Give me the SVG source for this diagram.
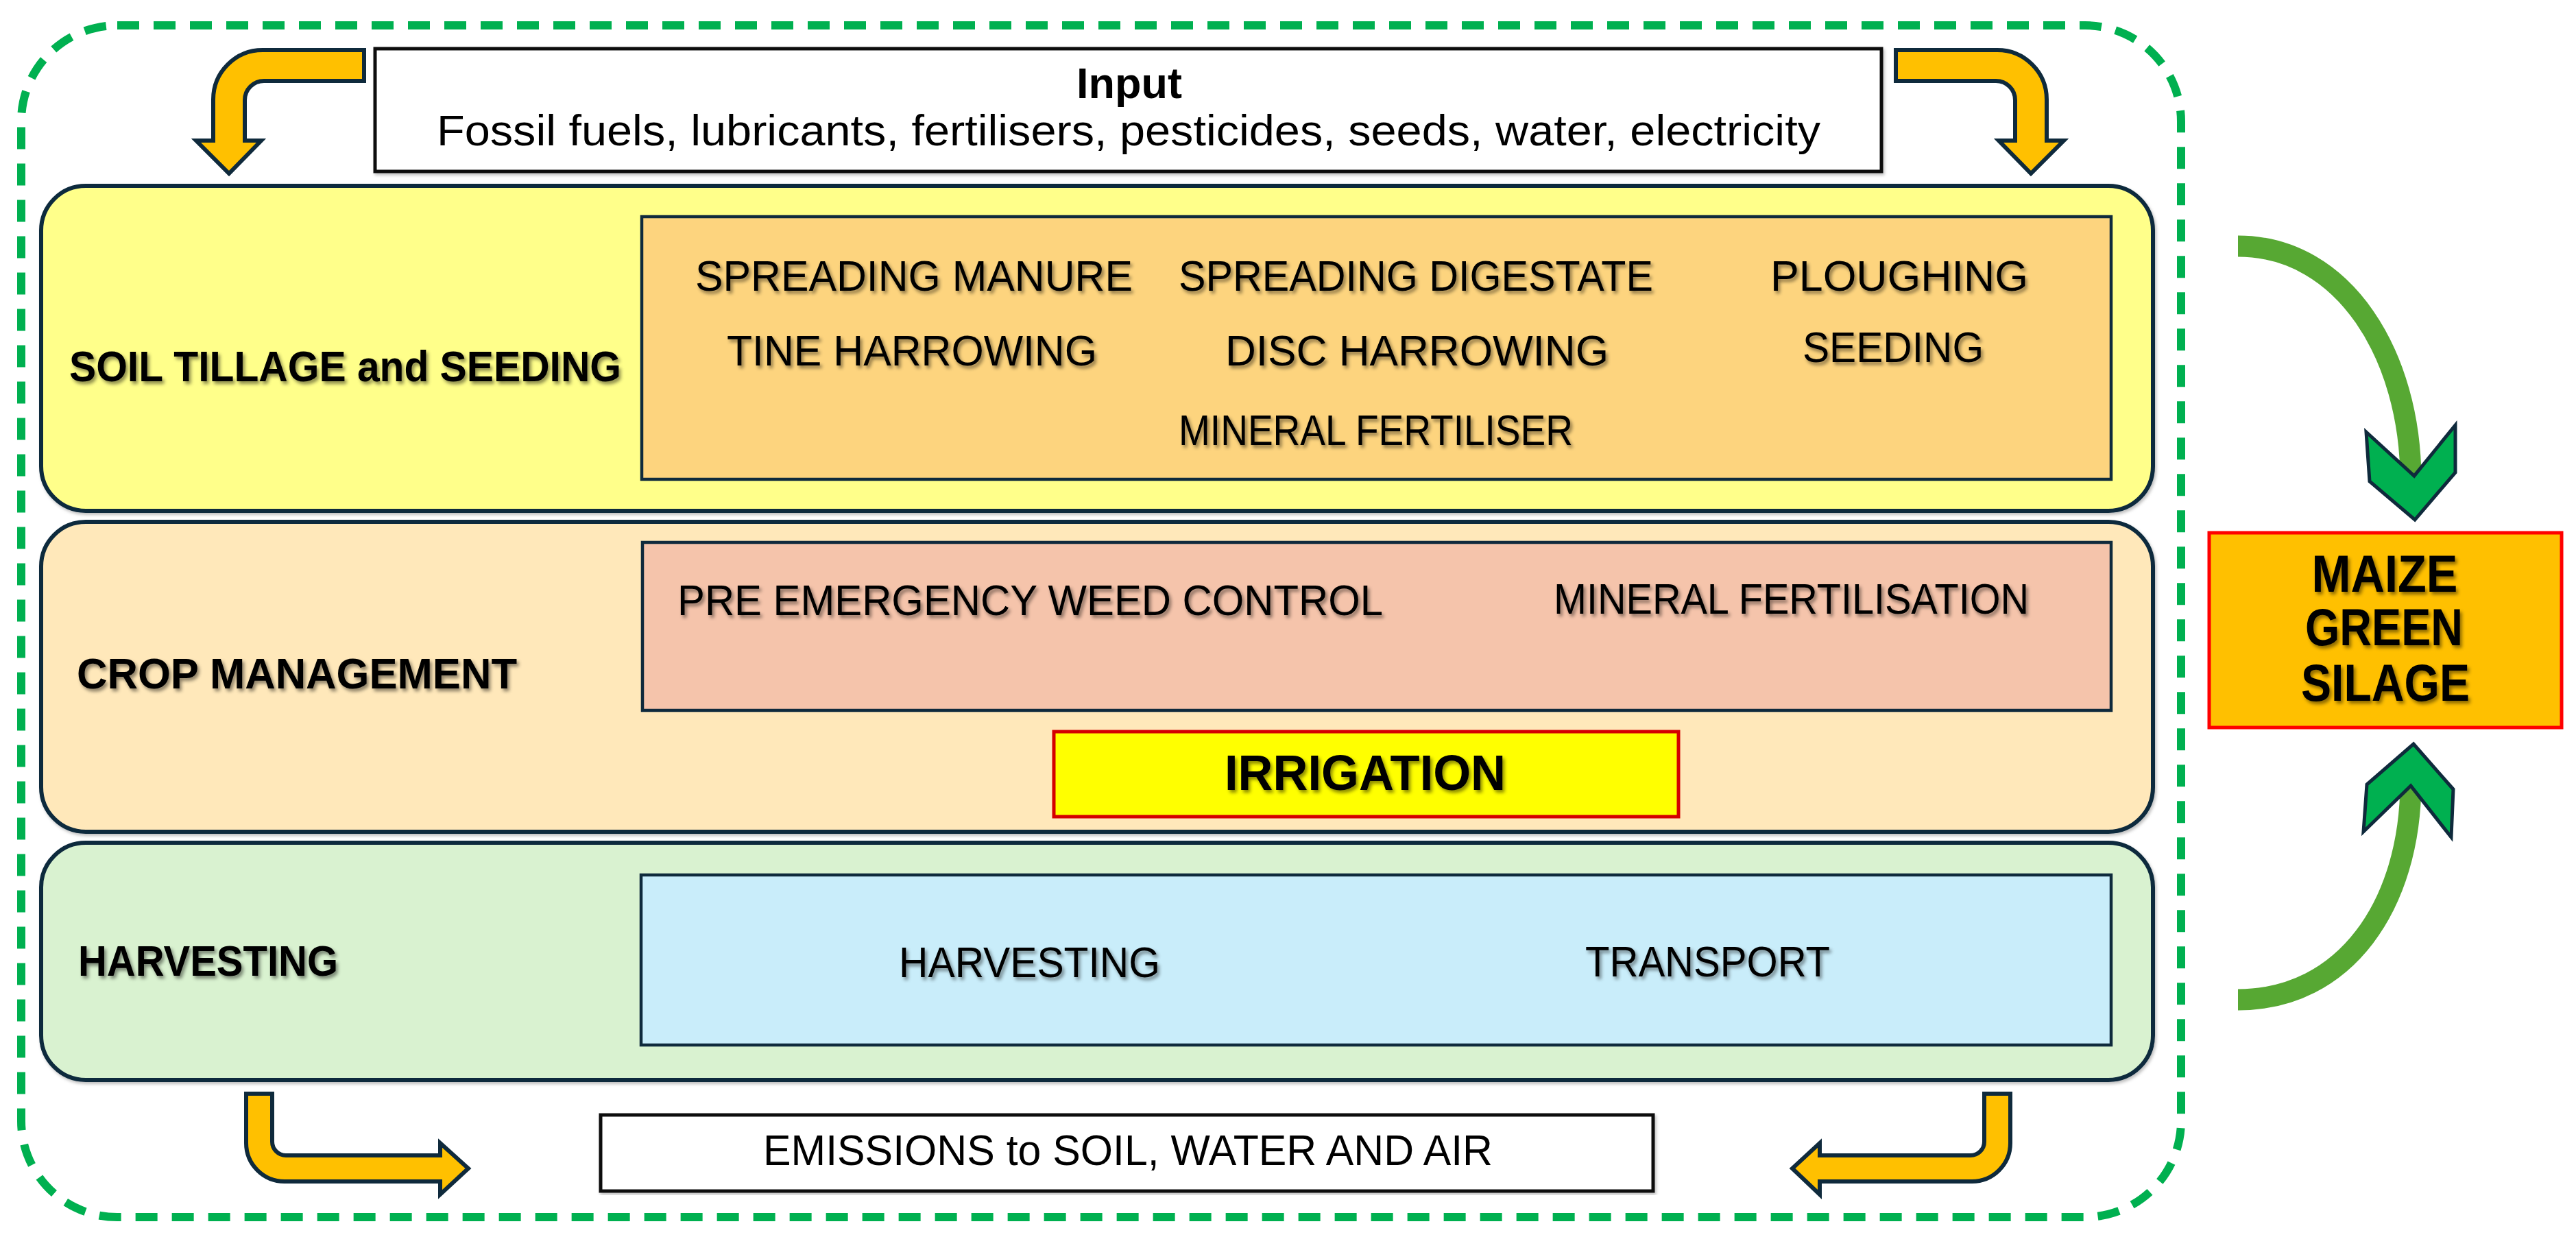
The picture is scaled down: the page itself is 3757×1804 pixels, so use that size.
<svg xmlns="http://www.w3.org/2000/svg" width="3757" height="1804" viewBox="0 0 3757 1804">
<defs>
<filter id="tsh" x="-5%" y="-30%" width="110%" height="160%">
<feDropShadow dx="3" dy="4" stdDeviation="2.5" flood-color="#000" flood-opacity="0.45"/>
</filter>
<filter id="bsh" x="-2%" y="-5%" width="104%" height="110%">
<feDropShadow dx="2" dy="3" stdDeviation="2" flood-color="#000" flood-opacity="0.25"/>
</filter>
</defs>
<style>
text{font-family:"Liberation Sans",Arial,sans-serif;fill:#000;}
.t{font-size:63px;}
.tb{font-size:63px;font-weight:bold;}
.sh{filter:url(#tsh);}
.stage{stroke:#0F2A3C;stroke-width:6;filter:url(#bsh);}
.inner{stroke:#0F2A3C;stroke-width:4.5;}
.plain{fill:#fff;stroke:#111;stroke-width:5;filter:url(#bsh);}
.yarrow{fill:#FFC000;stroke:#0F2A3C;stroke-width:6;stroke-linejoin:miter;}
.gshaft{fill:none;stroke:#57A833;stroke-width:31;}
.ghead{fill:#00B050;stroke:#0F2A3C;stroke-width:5;stroke-linejoin:miter;}
</style>
<rect width="3757" height="1804" fill="#fff"/>

<g id="boundary">
<rect x="31" y="37" width="3150" height="1738" rx="140" ry="140" fill="none" stroke="#00B050" stroke-width="12" stroke-dasharray="32 21"/>
</g>

<g id="input">
<rect class="plain" x="547" y="71" width="2197" height="179"/>
<text class="tb" x="1647" y="143" text-anchor="middle">Input</text>
<text class="t" x="1646" y="212" text-anchor="middle" textLength="2018" lengthAdjust="spacingAndGlyphs">Fossil fuels, lubricants, fertilisers, pesticides, seeds, water, electricity</text>
</g>

<g id="soil-tillage">
<rect class="stage" x="60" y="271" width="3080" height="474" rx="65" ry="65" fill="#FFFF8A"/>
<text class="tb sh" x="101" y="556" textLength="805" lengthAdjust="spacingAndGlyphs">SOIL TILLAGE and SEEDING</text>
<rect class="inner" x="936" y="316" width="2143" height="383" fill="#FDD47E"/>
<text class="t sh" x="1014" y="424" textLength="638" lengthAdjust="spacingAndGlyphs">SPREADING MANURE</text>
<text class="t sh" x="1719" y="424" textLength="692" lengthAdjust="spacingAndGlyphs">SPREADING DIGESTATE</text>
<text class="t sh" x="2582" y="424" textLength="376" lengthAdjust="spacingAndGlyphs">PLOUGHING</text>
<text class="t sh" x="1060" y="533" textLength="540" lengthAdjust="spacingAndGlyphs">TINE HARROWING</text>
<text class="t sh" x="1787" y="533" textLength="559" lengthAdjust="spacingAndGlyphs">DISC HARROWING</text>
<text class="t sh" x="2629" y="528" textLength="264" lengthAdjust="spacingAndGlyphs">SEEDING</text>
<text class="t sh" x="1719" y="649" textLength="575" lengthAdjust="spacingAndGlyphs">MINERAL FERTILISER</text>
</g>

<g id="crop-management">
<rect class="stage" x="60" y="761" width="3080" height="452" rx="65" ry="65" fill="#FFE8BA"/>
<text class="tb sh" x="112" y="1004" textLength="642" lengthAdjust="spacingAndGlyphs">CROP MANAGEMENT</text>
<rect class="inner" x="937" y="791" width="2142" height="245" fill="#F5C4AB"/>
<text class="t sh" x="988" y="897" textLength="1029" lengthAdjust="spacingAndGlyphs">PRE EMERGENCY WEED CONTROL</text>
<text class="t sh" x="2266" y="895" textLength="693" lengthAdjust="spacingAndGlyphs">MINERAL FERTILISATION</text>
</g>

<g id="irrigation">
<rect x="1537" y="1067" width="911" height="124" fill="#FFFF00" stroke="#D40000" stroke-width="5"/>
<text class="tb sh" x="1991" y="1152" text-anchor="middle" style="font-size:72px" textLength="410" lengthAdjust="spacingAndGlyphs">IRRIGATION</text>
</g>

<g id="harvesting">
<rect class="stage" x="60" y="1229" width="3080" height="346" rx="65" ry="65" fill="#D9F2D0"/>
<text class="tb sh" x="114" y="1423" textLength="379" lengthAdjust="spacingAndGlyphs">HARVESTING</text>
<rect class="inner" x="935" y="1276" width="2144" height="248" fill="#C9EDFA"/>
<text class="t sh" x="1311" y="1425" textLength="381" lengthAdjust="spacingAndGlyphs">HARVESTING</text>
<text class="t sh" x="2312" y="1424" textLength="357" lengthAdjust="spacingAndGlyphs">TRANSPORT</text>
</g>

<g id="emissions">
<rect class="plain" x="876" y="1626" width="1535" height="111"/>
<text class="t" x="1645" y="1699" text-anchor="middle" textLength="1064" lengthAdjust="spacingAndGlyphs">EMISSIONS to SOIL, WATER AND AIR</text>
</g>

<g id="maize-green-silage">
<rect x="3222" y="777" width="514" height="284" fill="#FFC000" stroke="#FF0000" stroke-width="5"/>
<text class="tb sh" x="3478" y="863" text-anchor="middle" style="font-size:76px" textLength="213" lengthAdjust="spacingAndGlyphs">MAIZE</text>
<text class="tb sh" x="3477" y="941" text-anchor="middle" style="font-size:76px" textLength="230" lengthAdjust="spacingAndGlyphs">GREEN</text>
<text class="tb sh" x="3479" y="1022" text-anchor="middle" style="font-size:76px" textLength="246" lengthAdjust="spacingAndGlyphs">SILAGE</text>
</g>

<g id="connectors">
<path class="yarrow" d="M531,73 L383,73 A72,72 0 0 0 311,145 L311,205 L286,205 L334,253 L381,205 L357,205 L357,146 A28,28 0 0 1 385,118 L531,118 Z"/>
<path class="yarrow" d="M2765,73 L2913,73 A72,72 0 0 1 2985,145 L2985,205 L3010,205 L2962,253 L2915,205 L2939,205 L2939,146 A28,28 0 0 0 2911,118 L2765,118 Z"/>
<path class="yarrow" d="M359,1595 L397,1595 L397,1665 A20,20 0 0 0 417,1685 L642,1685 L642,1667 L683,1704 L642,1742 L642,1723 L415,1723 A56,56 0 0 1 359,1667 Z"/>
<path class="yarrow" d="M2932,1595 L2894,1595 L2894,1665 A20,20 0 0 1 2874,1685 L2654,1685 L2654,1667 L2614,1704 L2654,1742 L2654,1723 L2876,1723 A56,56 0 0 0 2932,1667 Z"/>
<path class="gshaft" d="M3264,359 C3420,359 3516,520 3516,700"/>
<path class="ghead" d="M3451,630 L3521,694 L3581,620 L3581,689 L3522,758 L3456,702 Z"/>
<path class="gshaft" d="M3264,1458 C3420,1458 3516,1320 3516,1140"/>
<path class="ghead" d="M3520,1085 L3578,1151 L3575,1221 L3516,1146 L3447,1213 L3452,1144 Z"/>
</g>
</svg>
